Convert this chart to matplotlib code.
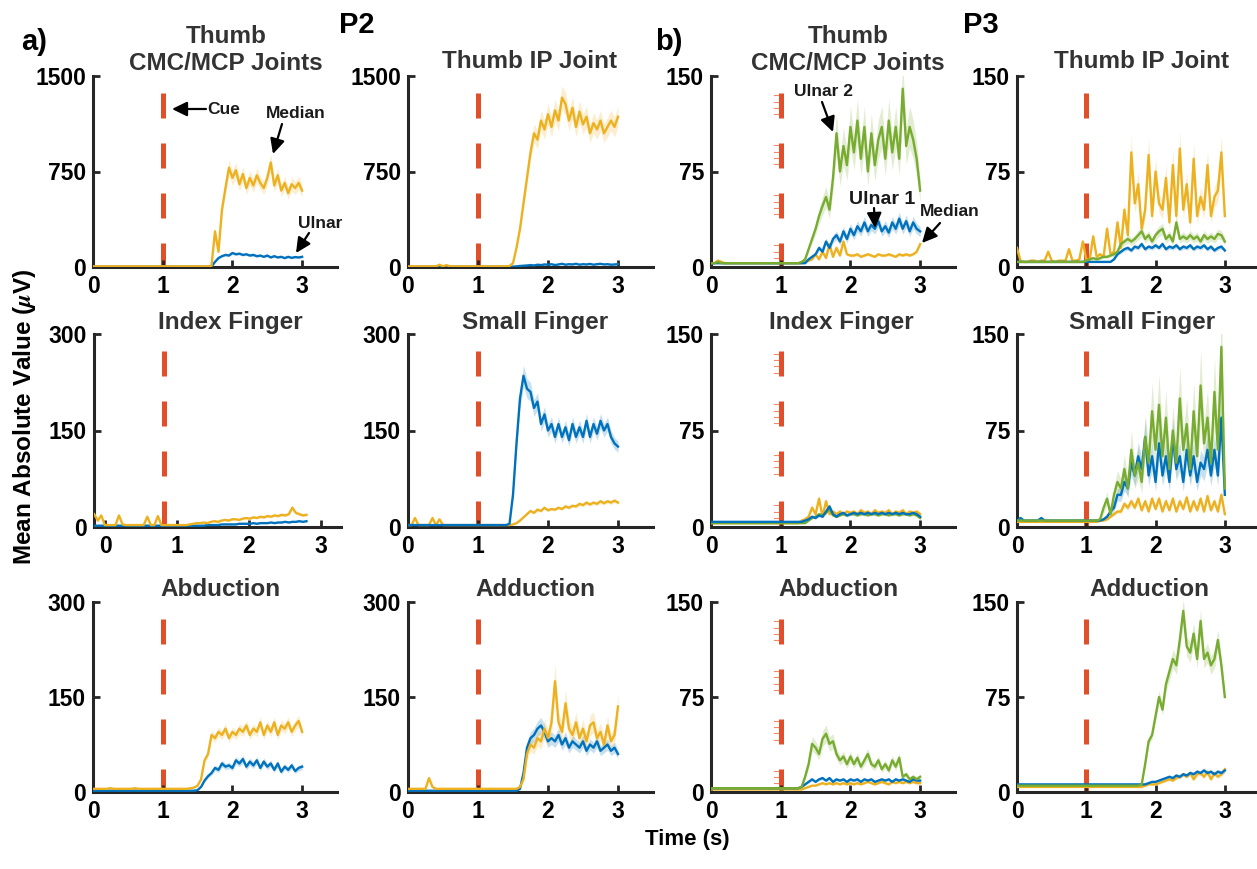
import numpy as np
import matplotlib
matplotlib.use('Agg')
import matplotlib.pyplot as plt
from matplotlib.transforms import blended_transform_factory

plt.rcParams['font.family'] = ['Liberation Sans', 'DejaVu Sans']
plt.rcParams['font.weight'] = 'bold'
plt.rcParams['mathtext.fontset'] = 'stix'

# ---------------- data ----------------
# P2 : Median (yellow), Ulnar (blue); time 0..3 s
p2_cmc_median = [5,5,5,6,5,5,5,5,6,5,
                 5,5,5,5,6,5,5,5,5,5,
                 5,5,5,5,5,5,5,5,5,5,
                 5,5,6,5,10,280,120,450,620,780,
                 700,760,650,730,620,700,640,720,660,620,
                 700,820,640,720,600,660,580,650,620,660,
                 600]
p2_cmc_ulnar = [3,3,3,3,3,3,3,3,3,3,
                3,3,3,3,3,3,3,3,3,3,
                3,3,3,3,3,3,3,3,3,3,
                3,3,3,3,3,40,70,85,95,90,
                110,100,105,95,100,90,95,85,90,80,
                90,75,85,75,80,70,80,72,78,75,
                80]
p2_ip_median = [5,5,5,5,5,5,5,5,5,18,
                5,15,5,5,5,5,5,5,5,5,
                5,5,5,5,5,5,5,5,5,8,
                30,150,300,500,700,900,1050,1000,1150,1080,
                1200,1100,1230,1150,1330,1280,1150,1250,1100,1220,
                1120,1180,1050,1130,1080,1150,1050,1100,1150,1100,
                1180]
p2_ip_ulnar = [2,2,2,2,2,2,2,2,2,2,
               2,2,2,2,2,2,2,2,2,2,
               2,2,2,2,2,2,2,2,2,2,
               3,5,8,10,12,15,12,18,15,20,
               18,22,15,20,25,18,22,20,25,18,
               22,20,24,18,22,25,20,22,18,20,
               22]
# Index finger P2 is drawn on a shifted time base (-0.15 .. 2.8 s)
p2_index_median = [20,10,18,3,3,3,3,18,4,3,
                   3,3,3,3,3,16,3,3,17,3,
                   3,3,3,3,3,3,3,4,5,6,
                   6,7,6,8,9,8,10,11,10,12,
                   12,11,13,14,13,15,14,16,15,17,
                   16,18,17,19,18,20,30,22,20,18,
                   19]
p2_index_ulnar = [2,2,2,2,2,2,2,2,2,2,
                  2,2,2,2,2,2,2,2,2,2,
                  2,2,2,2,2,2,2,2,2,2,
                  2,2,3,3,3,3,4,4,4,4,
                  4,5,5,5,5,6,5,6,6,6,
                  7,6,7,7,8,7,8,8,9,8,
                  9]
p2_small_median = [3,3,14,3,3,3,3,14,3,12,
                   3,3,3,3,3,3,3,3,3,3,
                   3,3,3,3,3,3,3,3,3,3,
                   4,6,10,15,20,25,22,27,25,30,
                   26,28,27,30,28,32,30,33,32,36,
                   34,38,35,38,36,40,37,40,38,41,
                   38]
p2_small_ulnar = [3,3,3,3,3,3,3,3,3,3,
                  3,3,3,3,3,3,3,3,3,3,
                  3,3,3,3,3,3,3,3,3,5,
                  50,130,200,235,215,210,185,195,160,175,
                  150,160,140,160,140,155,135,160,140,155,
                  140,165,140,160,145,165,150,160,140,130,
                  125]
p2_abd_median = [5,5,5,5,5,6,5,5,5,5,
                 5,5,6,5,5,5,5,5,5,5,
                 5,5,5,5,5,5,5,5,6,7,
                 10,20,50,60,90,85,95,90,100,85,
                 95,90,100,95,105,90,100,95,110,90,
                 105,95,110,90,105,100,110,95,105,112,
                 95]
p2_abd_ulnar = [2,2,2,2,2,2,2,2,2,2,
                2,2,2,2,2,2,2,2,2,2,
                2,2,2,2,2,2,2,2,2,2,
                3,8,18,25,30,38,35,45,40,42,
                38,50,45,52,40,48,42,50,38,48,
                40,45,35,45,32,40,35,42,33,38,
                40]
p2_add_median = [5,5,5,5,5,5,22,8,5,5,
                 5,5,5,5,5,5,5,5,5,5,
                 5,5,5,5,5,5,5,5,5,5,
                 5,5,8,20,60,75,70,85,80,100,
                 85,110,175,110,95,140,100,90,110,85,
                 100,80,105,110,85,95,75,105,80,90,
                 135]
p2_add_ulnar = [2,2,2,2,2,2,2,2,2,2,
                2,2,2,2,2,2,2,2,2,2,
                2,2,2,2,2,2,2,2,2,2,
                2,2,5,30,70,85,90,100,105,95,
                80,85,80,90,75,85,70,80,75,70,
                80,65,75,70,80,65,70,75,65,70,
                60]

# P3 : Median (yellow), Ulnar 1 (blue), Ulnar 2 (green)
p3_cmc_median = [3,3,5,4,3,3,3,3,3,3,
                 3,3,3,3,3,3,3,3,3,3,
                 3,3,3,3,3,3,3,4,5,6,
                 10,6,12,7,18,8,15,9,20,10,
                 9,9,10,8,9,10,9,8,10,9,
                 9,10,9,8,10,9,10,9,10,12,
                 18]
p3_cmc_ulnar1 = [3,3,3,3,3,3,3,3,3,3,
                 3,3,3,3,3,3,3,3,3,3,
                 3,3,3,3,3,3,3,3,6,8,
                 10,15,12,20,15,22,25,20,28,22,
                 30,25,32,28,35,28,33,30,36,28,
                 32,27,35,30,38,30,36,28,35,30,
                 28]
p3_cmc_ulnar2 = [3,3,4,3,3,3,3,3,3,3,
                 3,3,3,3,3,3,3,3,3,3,
                 3,3,3,3,3,3,4,6,14,22,
                 30,40,48,55,45,70,105,75,95,80,
                 110,90,115,85,110,75,105,80,100,110,
                 85,115,90,110,85,140,95,110,100,85,
                 60]
p3_ip_median = [15,5,4,4,5,5,4,5,5,12,
                5,4,5,5,5,14,5,5,6,20,
                6,6,24,8,10,8,30,10,12,35,
                15,45,25,90,50,65,30,45,88,40,
                75,50,45,70,35,80,40,93,45,65,
                35,85,40,55,45,80,40,55,60,90,
                40]
p3_ip_ulnar1 = [4,4,4,4,4,4,4,4,4,4,
                4,4,4,4,4,4,4,4,4,4,
                4,4,4,4,4,4,4,4,6,10,
                12,14,15,13,16,15,18,14,16,15,
                17,15,18,14,16,15,17,14,16,15,
                17,14,16,15,17,14,16,13,15,16,
                13]
p3_ip_ulnar2 = [4,4,4,4,4,4,4,4,4,4,
                4,4,4,4,4,4,4,4,4,4,
                5,6,7,6,7,8,8,9,10,12,
                18,20,22,20,22,25,28,22,25,20,
                25,28,30,22,25,20,35,22,24,22,
                25,22,24,20,25,22,24,22,26,25,
                20]
p3_index_median = [3,3,3,3,3,3,3,3,3,3,
                   3,3,3,3,3,3,3,3,3,3,
                   3,3,3,3,3,3,5,6,8,15,
                   10,22,8,20,10,12,10,12,10,12,
                   11,12,10,13,11,12,10,13,11,12,
                   11,13,10,12,11,13,10,12,11,12,
                   10]
p3_index_ulnar1 = [4,4,4,4,4,4,4,4,4,4,
                   4,4,4,4,4,4,4,4,4,4,
                   4,4,4,4,4,4,4,5,6,8,
                   7,9,8,12,16,10,8,10,11,9,
                   10,11,10,11,10,11,10,11,10,11,
                   10,11,10,11,10,11,10,10,11,10,
                   8]
p3_index_ulnar2 = [3,3,3,3,3,3,3,3,3,3,
                   3,3,3,3,3,3,3,3,3,3,
                   3,3,3,3,3,3,3,3,5,7,
                   8,10,9,11,14,9,8,9,10,9,
                   10,10,9,10,10,9,10,10,9,10,
                   10,9,10,10,9,10,10,9,10,9,
                   7]
p3_small_median = [4,4,4,4,4,4,4,4,4,4,
                   4,4,4,4,4,4,4,4,4,4,
                   4,4,4,4,5,5,6,8,10,12,
                   12,18,15,20,15,22,13,20,12,22,
                   14,22,12,20,13,22,12,20,14,23,
                   12,20,13,22,12,24,13,20,12,25,
                   10]
p3_small_ulnar1 = [5,7,5,5,5,5,5,7,5,5,
                   5,5,5,5,5,5,5,5,5,5,
                   5,5,5,5,5,6,8,12,15,25,
                   25,35,30,50,40,55,45,70,40,55,
                   35,65,40,55,35,70,45,55,35,60,
                   40,55,35,50,45,60,40,60,40,85,
                   25]
p3_small_ulnar2 = [5,5,5,5,5,5,5,5,5,5,
                   5,5,5,5,5,5,5,5,5,5,
                   5,5,5,5,6,15,22,10,25,35,
                   30,45,30,60,40,50,35,70,50,90,
                   60,95,55,85,45,75,50,100,60,80,
                   45,90,55,110,65,85,50,105,60,140,
                   30]
p3_abd_median = [2,2,2,2,2,2,2,2,2,2,
                 2,2,2,2,2,2,2,2,2,2,
                 2,2,2,2,2,2,2,3,4,5,
                 5,6,7,6,7,6,7,6,7,6,
                 7,6,7,6,7,8,7,6,7,8,
                 7,6,8,7,8,7,8,7,8,7,
                 7]
p3_abd_ulnar1 = [3,3,3,3,3,3,3,3,3,3,
                 3,3,3,3,3,3,3,3,3,3,
                 3,3,3,3,3,3,4,6,8,10,
                 8,10,11,9,11,8,10,9,10,8,
                 10,9,10,8,10,9,10,8,9,10,
                 9,10,8,10,9,10,9,8,10,9,
                 9]
p3_abd_ulnar2 = [3,3,3,3,3,3,3,3,3,3,
                 3,3,3,3,3,3,3,3,3,3,
                 3,3,3,3,3,3,4,12,22,38,
                 35,30,42,46,38,40,30,25,28,22,
                 28,22,27,20,25,30,22,20,25,18,
                 22,17,25,20,27,12,14,10,12,10,
                 12]
p3_add_median = [4,4,4,4,4,4,4,4,4,4,
                 4,4,4,4,4,4,4,4,4,4,
                 4,4,4,4,4,4,4,4,4,4,
                 4,4,4,4,4,4,4,5,6,6,
                 6,7,8,9,10,9,11,12,14,12,
                 15,10,14,15,12,16,10,15,12,14,
                 18]
p3_add_ulnar1 = [6,6,6,6,6,6,6,6,6,6,
                 6,6,6,6,6,6,6,6,6,6,
                 6,6,6,6,6,6,6,6,6,6,
                 6,6,6,6,6,6,6,6,7,8,
                 8,9,10,11,12,11,13,12,14,13,
                 15,14,16,15,17,15,16,14,16,15,
                 17]
p3_add_ulnar2 = [5,5,5,5,5,5,5,5,5,5,
                 5,5,5,5,5,5,5,5,5,5,
                 5,5,5,5,5,5,5,5,5,5,
                 5,5,5,5,5,5,6,22,40,45,
                 60,75,65,85,95,105,100,120,143,115,
                 110,125,105,135,105,110,100,105,120,100,
                 75]

titles = ['Thumb\nCMC/MCP Joints', 'Thumb IP Joint', 'Thumb\nCMC/MCP Joints', 'Thumb IP Joint',
          'Index Finger', 'Small Finger', 'Index Finger', 'Small Finger',
          'Abduction', 'Adduction', 'Abduction', 'Adduction']
y_max = [1500, 1500, 150, 150,
         300, 300, 150, 150,
         300, 300, 150, 150]
x_ticks = [0, 1, 2, 3]

# ---------------- style ----------------
YEL = '#EDB120'
BLU = '#0072BD'
GRN = '#77AC30'
CUE = '#E04E2A'
AXC = '#262626'

W, H = 1257, 869
fig = plt.figure(figsize=(W / 100, H / 100), dpi=100)
fig.patch.set_facecolor('white')


def px_axes(left, top, right, bottom):
    return fig.add_axes([left / W, 1 - bottom / H, (right - left) / W, (bottom - top) / H])


cols = [(93, 337), (408, 653), (711, 955), (1017, 1256)]
rows = [(76, 267), (334, 527), (602, 792)]

panels = [
    [(p2_cmc_ulnar, BLU, 0.10), (p2_cmc_median, YEL, 0.08)],
    [(p2_ip_ulnar, BLU, 0.10), (p2_ip_median, YEL, 0.07)],
    [(p3_cmc_median, YEL, 0.12), (p3_cmc_ulnar1, BLU, 0.14), (p3_cmc_ulnar2, GRN, 0.15)],
    [(p3_ip_median, YEL, 0.15), (p3_ip_ulnar1, BLU, 0.12), (p3_ip_ulnar2, GRN, 0.15)],
    [(p2_index_ulnar, BLU, 0.10), (p2_index_median, YEL, 0.12)],
    [(p2_small_median, YEL, 0.08), (p2_small_ulnar, BLU, 0.07)],
    [(p3_index_median, YEL, 0.15), (p3_index_ulnar2, GRN, 0.12), (p3_index_ulnar1, BLU, 0.12)],
    [(p3_small_median, YEL, 0.15), (p3_small_ulnar1, BLU, 0.2), (p3_small_ulnar2, GRN, 0.25)],
    [(p2_abd_ulnar, BLU, 0.12), (p2_abd_median, YEL, 0.08)],
    [(p2_add_ulnar, BLU, 0.12), (p2_add_median, YEL, 0.15)],
    [(p3_abd_median, YEL, 0.12), (p3_abd_ulnar1, BLU, 0.12), (p3_abd_ulnar2, GRN, 0.15)],
    [(p3_add_median, YEL, 0.12), (p3_add_ulnar1, BLU, 0.12), (p3_add_ulnar2, GRN, 0.07)],
]

title_pos = [(226, 50), (529, 62), (848, 50), (1142, 62),
             (230, 323), (535, 323), (841, 323), (1142, 323),
             (220, 589), (535, 589), (838, 589), (1149, 589)]

for k in range(12):
    r, c = divmod(k, 4)
    left, right = cols[c]
    top, bottom = rows[r]
    xlim = (0, 3.5) if c < 3 else (0, 3.45)
    trange = (0.0, 3.0)
    cue_x = 1.0
    if k == 4:   # P2 index finger panel, shifted time axis
        left, right = 94, 341
        xlim = (-0.153, 3.28)
        trange = (-0.15, 2.8)
        cue_x = 0.82
    ax = px_axes(left, top, right, bottom)
    ym = y_max[k]
    ax.set_xlim(*xlim)
    ax.set_ylim(0, ym)
    # cue line
    ax.plot([cue_x, cue_x], [0.91 * ym, 0], color=CUE, lw=3.6,
            linestyle=(0, (5, 5)), solid_capstyle='butt', zorder=1)
    if c == 2:
        trans = blended_transform_factory(ax.transData, ax.transAxes)
        f_top = 0.91
        dash = 25 / 191
        for d in range(4):
            s = f_top - 2 * d * dash
            for j in range(4):
                yy = s - 0.012 - j * dash / 4
                if yy > 0.02:
                    ax.plot([cue_x - 0.1, cue_x - 0.04], [yy, yy], color='#F08A6A',
                            lw=0.8, transform=trans, zorder=1)
    for vals, col, frac in panels[k]:
        y = np.array(vals, dtype=float)
        t = np.linspace(trange[0], trange[1], len(y))
        ax.fill_between(t, y * (1 - frac), y * (1 + frac), color=col, alpha=0.22,
                        lw=0, zorder=2)
        ax.plot(t, y, color=col, lw=1.7, zorder=3)
    ax.set_xticks(x_ticks)
    ax.set_yticks([0, ym // 2, ym])
    for side in ('top', 'right'):
        ax.spines[side].set_visible(False)
    for side in ('left', 'bottom'):
        ax.spines[side].set_linewidth(2.2)
        ax.spines[side].set_color(AXC)
    ax.tick_params(axis='both', direction='in', length=5, width=2, color=AXC,
                   labelsize=16.5, labelcolor='black')
    ax.tick_params(axis='x', pad=6)
    ax.tick_params(axis='y', pad=5)
    ax.patch.set_alpha(0)
    tx, ty = title_pos[k]
    fig.text(tx / W, 1 - ty / H, titles[k], ha='center', va='center', fontsize=17.5,
             color='#333333', linespacing=1.25)

# panel letters / participants
fig.text(34 / W, 1 - 42 / H, 'a)', ha='center', va='center', fontsize=21)
fig.text(357 / W, 1 - 25 / H, 'P2', ha='center', va='center', fontsize=21)
fig.text(669 / W, 1 - 42 / H, 'b)', ha='center', va='center', fontsize=21)
fig.text(981 / W, 1 - 25 / H, 'P3', ha='center', va='center', fontsize=21)

fig.text(25 / W, 1 - 417 / H, 'Mean Absolute Value ($\\mu$V)', rotation=90,
         ha='center', va='center', fontsize=17.5)
fig.text(687 / W, 1 - 840 / H, 'Time (s)', ha='center', va='center', fontsize=16)


def arrow(tail, tip):
    fig.add_artist(matplotlib.patches.FancyArrowPatch(
        (tail[0] / W, 1 - tail[1] / H), (tip[0] / W, 1 - tip[1] / H),
        transform=fig.transFigure, arrowstyle='-|>,head_length=0.45,head_width=0.22',
        mutation_scale=20, color='black', lw=1.6, shrinkA=0, shrinkB=0))


def label(x, y, s, size=12.5):
    fig.text(x / W, 1 - y / H, s, ha='center', va='center', fontsize=size, color='#1a1a1a')


label(224, 109, 'Cue')
arrow((206, 109), (172, 109))
label(296, 113, 'Median')
arrow((282, 124), (273, 154))
label(320, 223, 'Ulnar')
arrow((309, 233), (296, 253))

label(823, 91, 'Ulnar 2')
arrow((822, 102), (833, 132))
label(882, 199, 'Ulnar 1', size=14)
arrow((874, 208), (875, 228))
label(950, 211, 'Median')
arrow((940, 223), (922, 243))

fig.savefig('out.png', dpi=100, facecolor='white')
